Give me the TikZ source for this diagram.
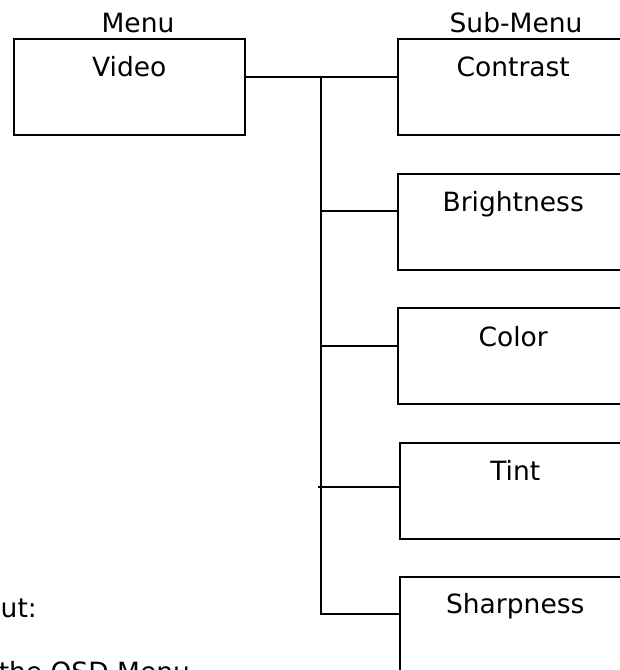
\documentclass[tikz,border=0pt]{standalone}
\usepackage{fontspec}
\setmainfont{DejaVu Sans}
\usetikzlibrary{positioning}

\begin{document}
\begin{tikzpicture}[x=1pt, y=-1pt, line width=1.5pt,
        menubox/.style={draw, rectangle, anchor=north west, inner sep=0pt,
            minimum width=231pt, minimum height=96pt},
        title/.style={anchor=base, inner sep=0pt, font=\fontsize{26.5}{31}\selectfont}]
        \useasboundingbox (0,0) rectangle (620,670);
        \clip (0,0) rectangle (620,670);

        \node[title] (menu) at (138,32) {Menu};
        \node[title] (submenu) at (516,32) {Sub-Menu};

        \node[menubox] (video) at (13,38) {};
        \node[menubox] (contrast) at (397,38) {};
        \node[menubox] (bright) at (397,173) {};
        \node[menubox] (color) at (397,307) {};
        \node[menubox] (tint) at (399,442) {};
        \node[menubox] (sharp) at (399,576) {};

        \node[title, below=38pt of video.north, anchor=base] (videotxt) {Video};
        \node[title, below=38pt of contrast.north, anchor=base] (contrasttxt) {Contrast};
        \node[title, below=38pt of bright.north, anchor=base] (brighttxt) {Brightness};
        \node[title, below=39pt of color.north, anchor=base] (colortxt) {Color};
        \node[title, below=38pt of tint.north, anchor=base] (tinttxt) {Tint};
        \node[title, below=37pt of sharp.north, anchor=base] (sharptxt) {Sharpness};

        \node[title, anchor=base west] (layout) at (0,617) {ut:};
        \node[title, anchor=base west] (osd) at (-2,681) {the OSD Menu};

        \coordinate (trunk) at (321,77);
        \coordinate (brightjoin) at ([yshift=-38pt]bright.north west);
        \coordinate (colorjoin) at ([yshift=-39pt]color.north west);
        \coordinate (tintjoin) at ([yshift=-45pt]tint.north west);
        \coordinate (sharpjoin) at ([yshift=-38pt]sharp.north west);

        \draw ([yshift=-39pt]video.north east) -- ([yshift=-39pt]contrast.north west);
        \draw (trunk) -- (trunk |- sharpjoin) -- (sharpjoin);
        \draw (trunk |- brightjoin) -- (brightjoin);
        \draw (trunk |- colorjoin) -- (colorjoin);
        \draw ([xshift=-3pt]trunk |- tintjoin) -- (tintjoin);
    \end{tikzpicture}
\end{document}
